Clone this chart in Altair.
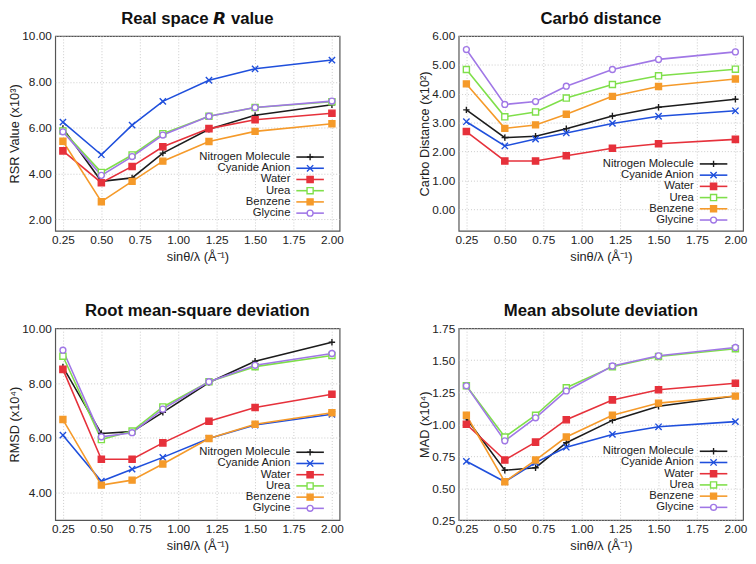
import altair as alt
import pandas as pd

# ---------------- data ----------------
X_VALS = [0.25, 0.5, 0.7, 0.9, 1.2, 1.5, 2.0]
X_TICKS = [0.25, 0.5, 0.75, 1.0, 1.25, 1.5, 1.75, 2.0]

SERIES = ["Nitrogen Molecule", "Cyanide Anion", "Water", "Urea", "Benzene", "Glycine"]

# Real space R value (x10^3)
rsr_nitrogen = [5.97, 3.66, 3.81, 4.89, 5.93, 6.54, 7.00]
rsr_cyanide = [6.24, 4.82, 6.11, 7.15, 8.07, 8.57, 8.95]
rsr_water = [4.99, 3.60, 4.31, 5.17, 5.96, 6.35, 6.63]
rsr_urea = [5.86, 4.05, 4.81, 5.74, 6.50, 6.88, 7.13]
rsr_benzene = [5.41, 2.77, 3.66, 4.54, 5.40, 5.84, 6.17]
rsr_glycine = [5.82, 3.92, 4.74, 5.68, 6.50, 6.88, 7.16]

# Carbo distance (x10^2)
cd_nitrogen = [3.44, 2.48, 2.53, 2.79, 3.23, 3.53, 3.81]
cd_cyanide = [3.03, 2.19, 2.43, 2.64, 2.97, 3.22, 3.41]
cd_water = [2.69, 1.67, 1.67, 1.85, 2.11, 2.27, 2.42]
cd_urea = [4.84, 3.20, 3.37, 3.85, 4.32, 4.62, 4.85]
cd_benzene = [4.34, 2.80, 2.92, 3.29, 3.91, 4.25, 4.51]
cd_glycine = [5.53, 3.63, 3.73, 4.26, 4.84, 5.19, 5.45]

# RMSD (x10^4)
rmsd_nitrogen = [8.59, 6.16, 6.23, 6.93, 8.02, 8.80, 9.49]
rmsd_cyanide = [6.10, 4.42, 4.86, 5.29, 5.98, 6.47, 6.86]
rmsd_water = [8.50, 5.22, 5.22, 5.82, 6.61, 7.11, 7.59]
rmsd_urea = [8.98, 5.94, 6.25, 7.13, 8.05, 8.60, 9.01]
rmsd_benzene = [6.67, 4.28, 4.46, 5.05, 5.98, 6.50, 6.92]
rmsd_glycine = [9.20, 6.04, 6.19, 7.05, 8.05, 8.65, 9.08]

# MAD (x10^4)
mad_nitrogen = [1.045, 0.64, 0.66, 0.855, 1.03, 1.14, 1.22]
mad_cyanide = [0.71, 0.55, 0.70, 0.82, 0.92, 0.98, 1.02]
mad_water = [1.00, 0.72, 0.86, 1.035, 1.19, 1.27, 1.32]
mad_urea = [1.30, 0.90, 1.07, 1.285, 1.45, 1.53, 1.59]
mad_benzene = [1.07, 0.55, 0.72, 0.90, 1.07, 1.165, 1.22]
mad_glycine = [1.30, 0.87, 1.05, 1.26, 1.455, 1.535, 1.60]

# ---------------- styles ----------------
COLORS = ["#1c1c1c", "#1f4fdc", "#e6313b", "#7fdf4a", "#f59a2a", "#a077e6"]
FILLS = ["#1c1c1c", "#1f4fdc", "#e6313b", "#ffffff", "#f59a2a", "#ffffff"]
SHAPES = ["M-1,0H1M0,-1V1", "M-1,-1L1,1M-1,1L1,-1", "square", "square", "square", "circle"]
SIZES = [42, 36, 22, 32, 40, 34]
FONT = "Liberation Sans"

color_scale = alt.Scale(domain=SERIES, range=COLORS)
fill_scale = alt.Scale(domain=SERIES, range=FILLS)
shape_scale = alt.Scale(domain=SERIES, range=SHAPES)
size_scale = alt.Scale(domain=SERIES, range=SIZES)

PW = 289


def long_df(cols):
    rows = []
    for name, vals in zip(SERIES, cols):
        for xv, yv in zip(X_VALS, vals):
            rows.append({"series": name, "x": xv, "value": yv})
    return pd.DataFrame(rows)


def enc_style():
    return dict(
        color=alt.Color("series:N", scale=color_scale, legend=None),
        fill=alt.Fill("series:N", scale=fill_scale, legend=None),
        shape=alt.Shape("series:N", scale=shape_scale, legend=None),
        size=alt.Size("series:N", scale=size_scale, legend=None),
    )


def panel(title, ytitle, cols, ydomain, yticks, height, ly0):
    df = long_df(cols)
    x = alt.X("x:Q", scale=alt.Scale(domain=[0.2, 2.05], nice=False, zero=False),
              axis=alt.Axis(values=X_TICKS, format=".2f", title="sinθ/λ (Å⁻¹)"))
    y = alt.Y("value:Q", scale=alt.Scale(domain=ydomain, nice=False, zero=False),
              axis=alt.Axis(values=yticks, format=".2f", title=ytitle))
    base = alt.Chart(df)
    lines = base.mark_line(strokeWidth=1.6).encode(
        x=x, y=y, color=alt.Color("series:N", scale=color_scale, legend=None),
        order="x:Q")
    points = base.mark_point(opacity=1, fillOpacity=1, strokeWidth=1.4).encode(
        x=x, y=y, **enc_style())
    layers = [lines, points]
    dy = 11.4
    for i, name in enumerate(SERIES):
        ld = pd.DataFrame({"series": [name]})
        yy = ly0 + i * dy
        layers.append(alt.Chart(ld).mark_text(align="right", baseline="middle", fontSize=11.5,
                                              font=FONT, color="#222").encode(
            x=alt.value(239), y=alt.value(yy), text="series:N"))
        layers.append(alt.Chart(ld).mark_rule(strokeWidth=1.6).encode(
            x=alt.value(245), x2=alt.value(273), y=alt.value(yy),
            color=alt.Color("series:N", scale=color_scale, legend=None)))
        layers.append(alt.Chart(ld).mark_point(opacity=1, fillOpacity=1, strokeWidth=1.4).encode(
            x=alt.value(259), y=alt.value(yy), **enc_style()))
    return alt.layer(*layers).properties(width=PW, height=height, title=title)


p1 = panel("Real space 𝙍 value", "RSR Value (x10³)",
           [rsr_nitrogen, rsr_cyanide, rsr_water, rsr_urea, rsr_benzene, rsr_glycine],
           [1.5, 10.0], [2, 4, 6, 8, 10], 198, 123)
p2 = panel("Carbó distance", "Carbo Distance (x10²)",
           [cd_nitrogen, cd_cyanide, cd_water, cd_urea, cd_benzene, cd_glycine],
           [-0.75, 6.0], [0, 1, 2, 3, 4, 5, 6], 198, 130)
p3 = panel("Root mean-square deviation", "RMSD (x10⁴)",
           [rmsd_nitrogen, rmsd_cyanide, rmsd_water, rmsd_urea, rmsd_benzene, rmsd_glycine],
           [3.0, 10.0], [4, 6, 8, 10], 195, 126)
p4 = panel("Mean absolute deviation", "MAD (x10⁴)",
           [mad_nitrogen, mad_cyanide, mad_water, mad_urea, mad_benzene, mad_glycine],
           [0.25, 1.75], [0.25, 0.5, 0.75, 1.0, 1.25, 1.5, 1.75], 195, 125)

chart = alt.vconcat(
    alt.hconcat(p1, p2, spacing=75),
    alt.hconcat(p3, p4, spacing=75),
    spacing=38,
).properties(
    padding={"left": 0, "top": -3, "right": 0, "bottom": 0}
).configure_axis(
    labelFont=FONT, labelFontSize=12, labelColor="#222", labelFlush=False,
    titleFont=FONT, titleFontSize=13, titleFontWeight="normal", titleColor="#222",
    domain=False, ticks=False, labelPadding=4,
    grid=True, gridDash=[1, 2], gridColor="#bdbdbd", gridWidth=0.8,
).configure_axisX(
    titlePadding=5,
).configure_axisY(
    titlePadding=0,
).configure_title(
    font=FONT, fontSize=17, fontWeight="bold", anchor="middle", offset=2, color="#111",
).configure_view(
    stroke="#555", strokeWidth=1.2,
)

chart.save("out.html", embed_options={"renderer": "svg", "actions": False})
